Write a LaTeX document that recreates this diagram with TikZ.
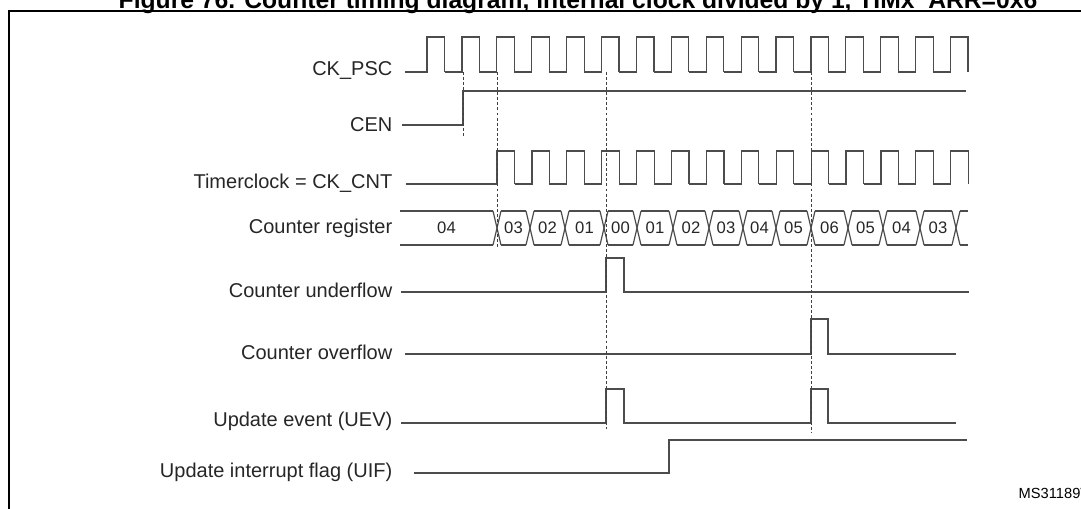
\documentclass[tikz,border=0pt]{standalone}
\usepackage{fontspec}
\setmainfont{Liberation Sans}
\begin{document}
\begin{tikzpicture}[x=0.75pt,y=-0.75pt,
    wave/.style={draw=black!70,line width=0.9pt},
    guide/.style={draw=black!75,line width=0.6pt,dash pattern=on 2.2pt off 1.6pt},
    sig/.style={anchor=east,font=\fontsize{15}{17}\selectfont,text=black!85},
    val/.style={font=\fontsize{12.5}{14}\selectfont,text=black!85}]
  \useasboundingbox (0,0) rectangle (1081,508);
  % frame and title
  \draw[line width=1.4pt] (9,512) -- (9,11) -- (1085,11);
  \node[font=\bfseries\fontsize{18.5}{20}\selectfont,anchor=base] (title) at (578,8)
    {Figure 76. Counter timing diagram, internal clock divided by 1, TIMx\_ARR=0x6};
  \node[anchor=base west,font=\fontsize{11}{12}\selectfont] (ref) at (1014,498) {MS31189V2};

  \node[sig] (psc) at (397,70) {CK\_PSC};
  \node[sig] (cen) at (397,125) {CEN};
  \node[sig] (tclk) at (397,183) {Timerclock = CK\_CNT};
  \node[sig] (cnt) at (397,228) {Counter register};
  \node[sig] (udf) at (397,290) {Counter underflow};
  \node[sig] (ovf) at (397,352) {Counter overflow};
  \node[sig] (uev) at (397,421) {Update event (UEV)};
  \node[sig] (uif) at (397,472) {Update interrupt flag (UIF)};

  % CK_PSC
  \draw[wave] (405,72) -- (427,72);
  \foreach \k in {0,...,15}
    \draw[wave] ({427+34.9*\k-17.4},72) -- ({427+34.9*\k},72) -- ({427+34.9*\k},37)
      -- ({444.5+34.9*\k},37) -- ({444.5+34.9*\k},72);
  % CEN
  \draw[wave] (402,125) -- (463,125) -- (463,91) -- (966,91);
  % Timerclock
  \draw[wave] (406,184) -- (497,184);
  \foreach \k in {0,...,13}
    \draw[wave] ({497+34.9*\k-17.4},184) -- ({497+34.9*\k},184) -- ({497+34.9*\k},151)
      -- ({514.5+34.9*\k},151) -- ({514.5+34.9*\k},184);
  % Counter register
  \foreach \a/\b/\v in {396/497/04,497/530/03,530/565/02,565/604/01,604/637/00,
      637/673/01,673/709/02,709/743/03,743/776/04,776/811/05,811/848/06,
      848/883/05,883/920/04,920/956/03}{
    \draw[wave] (\a+4,211) -- (\b-4,211);
    \draw[wave] (\a+4,245) -- (\b-4,245);
    \node[val] at ({(\a+\b)/2},228) {\v};
    \draw[wave] (\b-4,211) -- (\b+4,245);
    \draw[wave] (\b-4,245) -- (\b+4,211);
  }
  \draw[wave] (960,211) -- (968,211);
  \draw[wave] (960,245) -- (968,245);
  % flags
  \draw[wave] (401,292) -- (606,292) -- (606,258) -- (624,258) -- (624,292) -- (969,292);
  \draw[wave] (405,354) -- (811,354) -- (811,319) -- (828,319) -- (828,354) -- (956,354);
  \draw[wave] (401,423) -- (606,423) -- (606,389) -- (624,389) -- (624,423) -- (811,423)
    -- (811,389) -- (828,389) -- (828,423) -- (956,423);
  \draw[wave] (414,473) -- (669,473) -- (669,440) -- (967,440);
  % markers
  \draw[guide] (463,72) -- (463,136);
  \draw[guide] (497,72) -- (497,247);
  \draw[guide] (606,72) -- (606,429);
  \draw[guide] (811,72) -- (811,432);
\end{tikzpicture}
\end{document}
